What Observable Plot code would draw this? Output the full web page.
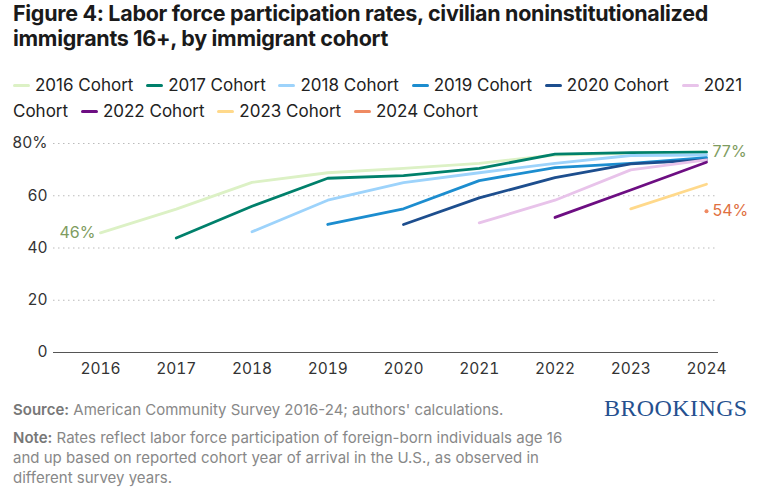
<!DOCTYPE html>
<html>
<head>
<meta charset="utf-8">
<script src="https://cdn.jsdelivr.net/npm/d3@7"></script>
<script src="https://cdn.jsdelivr.net/npm/@observablehq/plot@0.6"></script>
<style>
  body { margin: 0; background: #fff; font-family: Inter, "Noto Sans", sans-serif; color: #222; }
  #wrap { position: relative; width: 773px; height: 490px; overflow: hidden; }
  #title { position: absolute; left: 13px; top: 1px; width: 700px; font-size: 21.5px; font-weight: 700; line-height: 25px; color: #1a1a1a; letter-spacing: -0.3px; }
  #legend { position: absolute; left: 13px; top: 72px; width: 755px; font-size: 17px; line-height: 26px; color: #222; }
  .sw { display: inline-block; width: 17px; height: 3px; border-radius: 2px; vertical-align: middle; margin-right: 5px; position: relative; top: -1px; }
  .item { margin-right: 8px; }
  #chart { position: absolute; left: 0; top: 130px; }
  #footer { position: absolute; left: 13px; top: 400px; width: 575px; font-size: 15px; line-height: 20px; color: #888; }
  #footer b { color: #777; font-weight: 600; }
  #note { margin-top: 8px; }
  #logo { position: absolute; left: 604px; top: 395px; font-family: "Liberation Serif", "DejaVu Serif", serif; font-size: 24px; color: #25508f; letter-spacing: 0.4px; }
</style>
</head>
<body>
<div id="wrap">
  <div id="title">Figure 4: Labor force participation rates, civilian noninstitutionalized immigrants 16+, by immigrant cohort</div>
  <div id="legend"></div>
  <div id="chart"></div>
  <div id="footer">
    <div><b>Source:</b> American Community Survey 2016-24; authors' calculations.</div>
    <div id="note"><b>Note:</b> Rates reflect labor force participation of foreign-born individuals age 16 and up based on reported cohort year of arrival in the U.S., as observed in different survey years.</div>
  </div>
  <div id="logo">BROOKINGS</div>
</div>
<script>
const years = [2016, 2017, 2018, 2019, 2020, 2021, 2022, 2023, 2024];
const cohorts = ["2016 Cohort", "2017 Cohort", "2018 Cohort", "2019 Cohort", "2020 Cohort", "2021 Cohort", "2022 Cohort", "2023 Cohort", "2024 Cohort"];
const colors = ["#dcf1c5", "#00806b", "#9dd3fb", "#1c8dcf", "#1d4e8e", "#e8c3ea", "#6d0e82", "#ffd98b", "#ef8a62"];
// values per cohort, aligned with years (null = not yet arrived)
const c2016 = [45.8, 54.9, 65.1, 68.8, 70.5, 72.4, 75.6, 76.3, 76.8];
const c2017 = [null, 43.8, 56.0, 66.7, 67.7, 70.5, 75.9, 76.5, 76.7];
const c2018 = [null, null, 46.2, 58.3, 65.0, 68.8, 72.4, 75.4, 75.6];
const c2019 = [null, null, null, 49.0, 55.0, 65.8, 70.8, 72.4, 74.6];
const c2020 = [null, null, null, null, 49.0, 59.2, 66.9, 72.2, 73.7];
const c2021 = [null, null, null, null, null, 49.6, 58.3, 69.9, 73.7];
const c2022 = [null, null, null, null, null, null, 51.7, 62.2, 72.8];
const c2023 = [null, null, null, null, null, null, null, 55.0, 64.4];
const c2024 = [null, null, null, null, null, null, null, null, 54.1];
const series = [c2016, c2017, c2018, c2019, c2020, c2021, c2022, c2023, c2024];
const yTicks = [0, 20, 40, 60, 80];

const data = [];
series.forEach((vals, i) => vals.forEach((v, j) => {
  if (v != null) data.push({cohort: cohorts[i], year: years[j], value: v});
}));

// legend
const legend = document.getElementById("legend");
legend.innerHTML = cohorts.map((c, i) =>
  `<span class="item"><span class="sw" style="background:${colors[i]}"></span>${c}</span>`
).join(" ");

const first2016 = data.filter(d => d.cohort === "2016 Cohort" && d.year === 2016);
const last2016 = data.filter(d => d.cohort === "2016 Cohort" && d.year === 2024);
const pt2024 = data.filter(d => d.cohort === "2024 Cohort");

const chart = Plot.plot({
  width: 773,
  height: 250,
  marginLeft: 53,
  marginRight: 55,
  marginTop: 13,
  marginBottom: 28,
  style: {fontFamily: "Inter, sans-serif", fontSize: "15px", color: "#333", background: "transparent"},
  x: {type: "linear", domain: [2016, 2024], insetLeft: 47, insetRight: 12, label: null},
  y: {domain: [0, 80], label: null},
  color: {domain: cohorts, range: colors},
  marks: [
    Plot.gridY(yTicks.filter(t => t > 0), {stroke: "#bbb", strokeOpacity: 1, strokeDasharray: "1.5,3.5", strokeWidth: 1}),
    Plot.ruleY([0], {stroke: "#555", strokeWidth: 1.2}),
    Plot.axisX({ticks: years, tickSize: 0, tickPadding: 10, tickFormat: d => String(d), fill: "#333", fontSize: 15.5, label: null}),
    Plot.axisY({ticks: yTicks, tickSize: 0, tickPadding: 6, tickFormat: d => d === 80 ? "80%" : String(d), fill: "#333", fontSize: 15.5, label: null}),
    Plot.line(data, {x: "year", y: "value", z: "cohort", stroke: "cohort", strokeWidth: 2.8, strokeLinejoin: "round"}),
    Plot.dot(pt2024, {x: "year", y: "value", fill: "cohort", r: 2}),
    Plot.text(first2016, {x: "year", y: "value", text: d => Math.round(d.value) + "%", textAnchor: "end", dx: -5, fill: "#7e9c60", fontSize: 16}),
    Plot.text(last2016, {x: "year", y: "value", text: d => Math.round(d.value) + "%", textAnchor: "start", dx: 6, fill: "#7e9c60", fontSize: 16}),
    Plot.text(pt2024, {x: "year", y: "value", text: d => Math.round(d.value) + "%", textAnchor: "start", dx: 6, fill: "#e0703f", fontSize: 16})
  ]
});
document.getElementById("chart").appendChild(chart);
</script>
</body>
</html>
